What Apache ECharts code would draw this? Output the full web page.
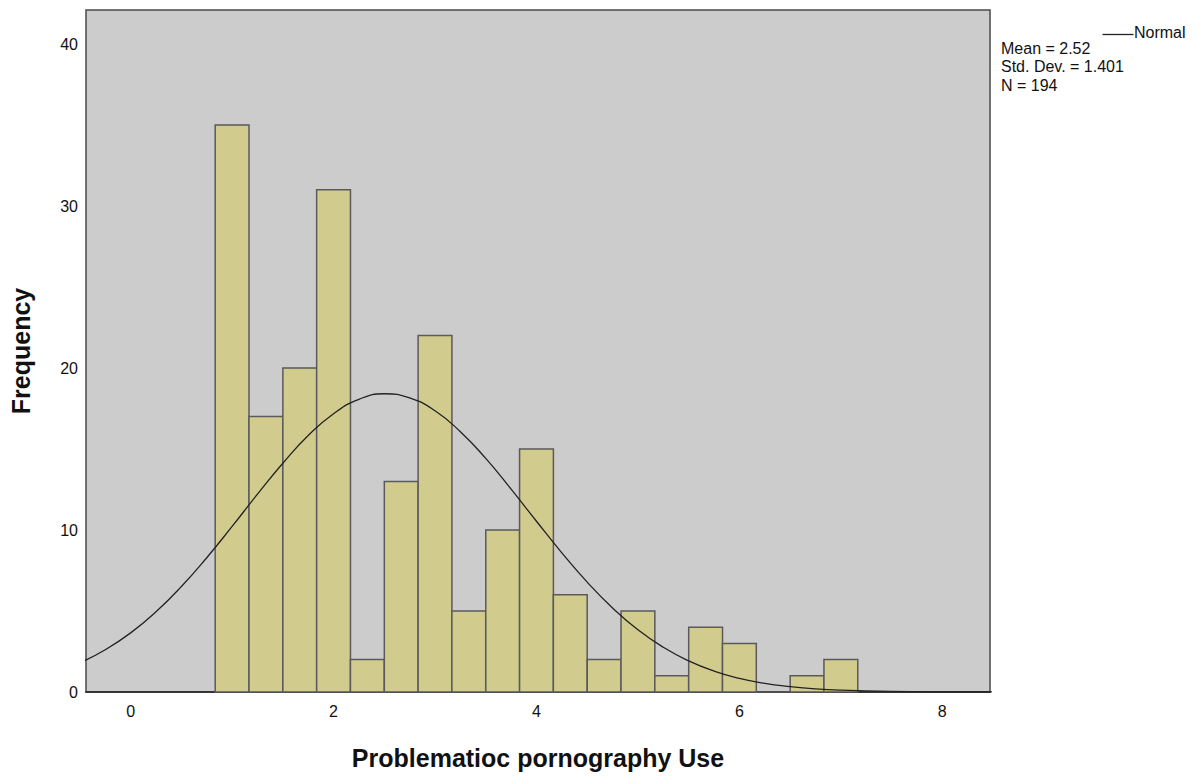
<!DOCTYPE html>
<html>
<head>
<meta charset="utf-8">
<script src="https://cdn.jsdelivr.net/npm/echarts@6/dist/echarts.min.js"></script>
<style>
html,body{margin:0;padding:0;background:#fff;}
#chart{width:1198px;height:776px;}
</style>
</head>
<body>
<div id="chart"></div>
<script>
// Histogram bins (centers) and frequencies
const binCenters = [1.0, 1.333, 1.667, 2.0, 2.333, 2.667, 3.0, 3.333, 3.667, 4.0, 4.333, 4.667, 5.0, 5.333, 5.667, 6.0, 6.333, 6.667, 7.0];
const binWidth = 1 / 3;
const frequencies = [35, 17, 20, 31, 2, 13, 22, 5, 10, 15, 6, 2, 5, 1, 4, 3, 0, 1, 2];

// Normal curve
const curveX = [-0.5, -0.25, 0, 0.25, 0.5, 0.75, 1, 1.25, 1.5, 1.75, 2, 2.25, 2.5, 2.75, 3, 3.25, 3.5, 3.75, 4, 4.25, 4.5, 4.75, 5, 5.25, 5.5, 5.75, 6, 6.25, 6.5, 6.75, 7, 7.5, 8, 8.5];
const curveY = [1.80, 2.61, 3.65, 4.95, 6.51, 8.29, 10.22, 12.21, 14.12, 15.83, 17.18, 18.07, 18.41, 18.16, 17.36, 16.07, 14.42, 12.52, 10.54, 8.59, 6.78, 5.19, 3.84, 2.76, 1.92, 1.29, 0.84, 0.53, 0.33, 0.19, 0.11, 0.033, 0.008, 0.002];

const xTicks = [0, 2, 4, 6, 8];
const yTicks = [0, 10, 20, 30, 40];
const statsLines = ['Mean = 2.52', 'Std. Dev. = 1.401', 'N = 194'];
const legendLabel = 'Normal';
const xTitle = 'Problematioc pornography Use';
const yTitle = 'Frequency';

const font = '"Liberation Sans", Arial, sans-serif';
const chart = echarts.init(document.getElementById('chart'), null, {renderer: 'svg'});

const barData = binCenters.map((c, i) => [c - binWidth / 2, c + binWidth / 2, frequencies[i]]);
const lineData = curveX.map((x, i) => [x, curveY[i]]);

const graphics = [
  {type: 'line', left: 1100, top: 32, shape: {x1: 0, y1: 0, x2: 31, y2: 0}, style: {stroke: '#222', lineWidth: 1.3}},
  {type: 'text', left: 1134, top: 24, style: {text: legendLabel, font: '16px ' + font, fill: '#111'}}
];
statsLines.forEach((t, i) => {
  graphics.push({type: 'text', left: 1001, top: 40 + i * 18.5, style: {text: t, font: '16px ' + font, fill: '#111'}});
});

chart.setOption({
  animation: false,
  backgroundColor: '#ffffff',
  grid: {left: 84, right: 208, top: 10, bottom: 84, show: true, backgroundColor: '#cccccc', borderColor: '#4a4a4a', borderWidth: 1.5},
  xAxis: {
    type: 'value', min: -0.44, max: 8.47,
    axisLine: {show: true, lineStyle: {color: '#222', width: 1.5}},
    axisTick: {show: false},
    splitLine: {show: false},
    axisLabel: {customValues: xTicks, color: '#111', fontSize: 16, fontFamily: font, margin: 11},
    name: xTitle, nameLocation: 'middle', nameGap: 53,
    nameTextStyle: {fontSize: 25, fontWeight: 'bold', color: '#111', fontFamily: font}
  },
  yAxis: {
    type: 'value', min: 0, max: 42.1,
    axisLine: {show: false},
    axisTick: {show: false},
    splitLine: {show: false},
    axisLabel: {customValues: yTicks, color: '#111', fontSize: 16, fontFamily: font, margin: 8},
    name: yTitle, nameLocation: 'middle', nameGap: 53,
    nameTextStyle: {fontSize: 25, fontWeight: 'bold', color: '#111', fontFamily: font}
  },
  graphic: graphics,
  series: [
    {
      type: 'custom',
      data: barData,
      encode: {x: [0, 1], y: 2},
      renderItem: function (params, api) {
        const p0 = api.coord([api.value(0), api.value(2)]);
        const p1 = api.coord([api.value(1), 0]);
        return {
          type: 'rect',
          shape: {x: p0[0], y: p0[1], width: p1[0] - p0[0], height: p1[1] - p0[1]},
          style: {fill: '#d1cc8e', stroke: '#5a5a5a', lineWidth: 1.5}
        };
      },
      z: 2
    },
    {
      type: 'line',
      data: lineData,
      smooth: true,
      showSymbol: false,
      clip: true,
      lineStyle: {color: '#222', width: 1.3},
      z: 3
    }
  ]
});
</script>
</body>
</html>
